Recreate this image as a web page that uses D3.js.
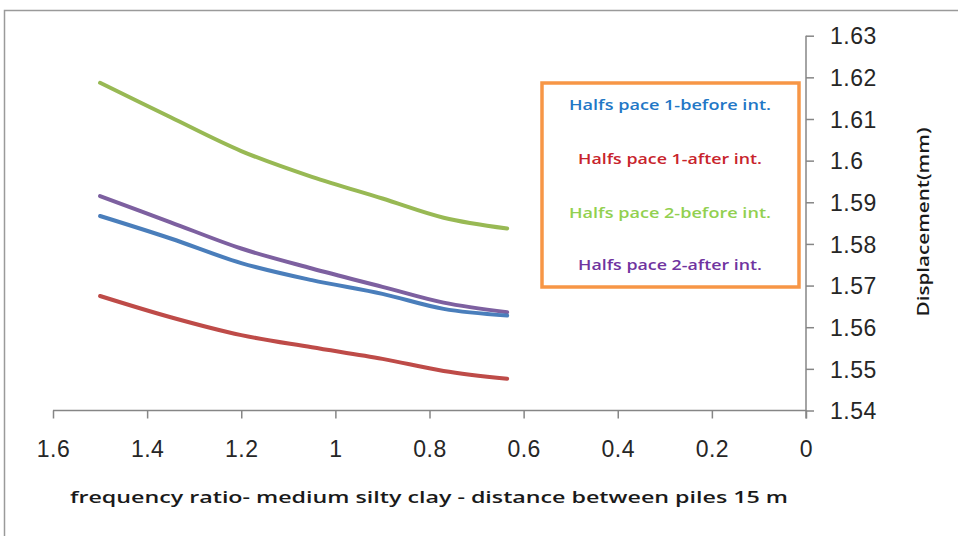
<!DOCTYPE html>
<html><head><meta charset="utf-8">
<script src="https://cdn.jsdelivr.net/npm/d3@7"></script>
<style>body{margin:0;background:#fff}svg{display:block}</style>
</head><body>
<script>
const xValues = [1.5, 1.35, 1.2, 1.05, 0.9, 0.77, 0.635];
const seriesNames = ["Halfs pace 1-before int.", "Halfs pace 1-after int.", "Halfs pace 2-before int.", "Halfs pace 2-after int."];
const hp1Before = [1.5867, 1.5813, 1.5754, 1.5713, 1.5680, 1.5644, 1.5628];
const hp1After  = [1.5675, 1.5624, 1.5581, 1.5552, 1.5524, 1.5495, 1.5476];
const hp2Before = [1.6187, 1.6104, 1.6023, 1.5961, 1.5909, 1.5863, 1.5837];
const hp2After  = [1.5915, 1.5852, 1.5789, 1.5741, 1.5697, 1.5659, 1.5636];
const xTicks = [1.6, 1.4, 1.2, 1, 0.8, 0.6, 0.4, 0.2, 0];
const yTicks = [1.54, 1.55, 1.56, 1.57, 1.58, 1.59, 1.6, 1.61, 1.62, 1.63];
const xTitle = "frequency ratio-  medium silty clay - distance between piles 15 m";
const yTitle = "Displacement(mm)";

const lineColors = ["#4a7ebb", "#be4b48", "#98b954", "#7d60a0"];
const textColors = ["#2277c6", "#c8242c", "#92d050", "#7034a0"];

const W = 958, H = 536;
const svg = d3.select("body").append("svg").attr("width", W).attr("height", H);

svg.append("rect").attr("x", 4.5).attr("y", 10.5).attr("width", 970).attr("height", 540)
  .attr("fill", "none").attr("stroke", "#9a9a9a").attr("stroke-width", 1.5);

const x = d3.scaleLinear().domain([1.6, 0]).range([53, 806]);
const y = d3.scaleLinear().domain([1.54, 1.63]).range([410.5, 35.7]);

const axisColor = "#868686";
const gx = svg.append("g").attr("transform", "translate(0,410.5)")
  .call(d3.axisBottom(x).tickValues(xTicks).tickSize(8).tickSizeOuter(0).tickFormat(d3.format("~g")));
gx.selectAll("path,line").attr("stroke", axisColor).attr("stroke-width", 1.5);
gx.select(".domain").attr("d", `M${x(1.6)},0H${x(0)}`);
gx.selectAll("text").attr("font-family", "Liberation Sans, Arial, sans-serif").attr("font-size", 23)
  .attr("letter-spacing", 0.5).attr("fill", "#262626").attr("dy", "0").attr("y", 46);

const gy = svg.append("g").attr("transform", "translate(806,0)")
  .call(d3.axisRight(y).tickValues(yTicks).tickSize(8).tickSizeOuter(0).tickFormat(d3.format("~g")));
gy.selectAll("path,line").attr("stroke", axisColor).attr("stroke-width", 1.5);
gy.select(".domain").attr("d", `M0,${y(1.63)}V${y(1.54) + 8}`);
gy.selectAll("text").attr("font-family", "Liberation Sans, Arial, sans-serif").attr("font-size", 23)
  .attr("letter-spacing", 0.5).attr("fill", "#262626").attr("x", 24).attr("dy", "0.36em");

const series = [hp1Before, hp1After, hp2Before, hp2After];
const line = d3.line().x(d => x(d[0])).y(d => y(d[1])).curve(d3.curveCatmullRom.alpha(0.5));
// draw order: green, red, purple, blue on top
[2, 1, 3, 0].forEach(i => {
  svg.append("path").datum(xValues.map((v, j) => [v, series[i][j]]))
    .attr("d", line).attr("fill", "none").attr("stroke", lineColors[i])
    .attr("stroke-width", 4).attr("stroke-linecap", "round");
});

// legend
svg.append("rect").attr("x", 542).attr("y", 83).attr("width", 257).attr("height", 204)
  .attr("fill", "#fff").attr("stroke", "#f79646").attr("stroke-width", 3.5);
const legY = [105, 159, 213, 265];
const legW = [202, 184, 202, 184];
seriesNames.forEach((n, i) => {
  svg.append("text").attr("x", 670).attr("y", legY[i]).attr("dy", "0.35em")
    .attr("text-anchor", "middle").attr("font-family", "Open Sans, Liberation Sans, sans-serif")
    .attr("font-size", 13.5).attr("font-weight", 600).attr("fill", textColors[i])
    .attr("textLength", legW[i]).attr("lengthAdjust", "spacingAndGlyphs").text(n);
});

svg.append("text").attr("x", 429).attr("y", 497).attr("dy", "0.35em").attr("text-anchor", "middle")
  .attr("font-family", "Open Sans, Liberation Sans, sans-serif").attr("font-size", 16).attr("font-weight", 600)
  .attr("fill", "#1a1a1a").attr("textLength", 718).attr("lengthAdjust", "spacingAndGlyphs").text(xTitle);

svg.append("text").attr("transform", "translate(923,222) rotate(-90)").attr("dy", "0.35em")
  .attr("text-anchor", "middle").attr("font-family", "Open Sans, Liberation Sans, sans-serif")
  .attr("font-size", 16).attr("font-weight", 600).attr("fill", "#1a1a1a")
  .attr("textLength", 189).attr("lengthAdjust", "spacingAndGlyphs").text(yTitle);
</script>
</body></html>
